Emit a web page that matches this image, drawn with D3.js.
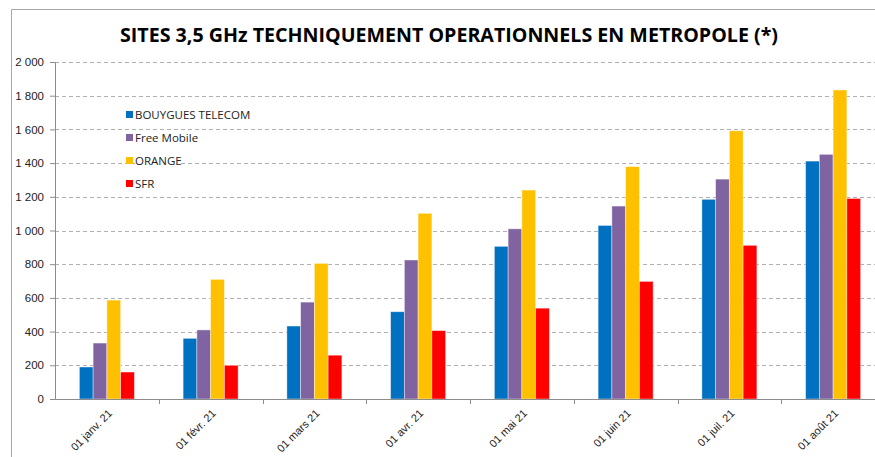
<!DOCTYPE html>
<html>
<head>
<meta charset="utf-8">
<script src="https://cdn.jsdelivr.net/npm/d3@7"></script>
<style>
  body { margin: 0; background: #fff; }
  svg { display: block; font-family: "Open Sans", "Noto Sans", sans-serif; }
</style>
</head>
<body>
<div class="chart"></div>
<script>
const months = ["01 janv. 21", "01 févr. 21", "01 mars 21", "01 avr. 21",
  "01 mai 21", "01 juin 21", "01 juil. 21", "01 août 21"];
const operators = ["BOUYGUES TELECOM", "Free Mobile", "ORANGE", "SFR"];
const colors = ["#0070c0", "#8064a2", "#ffc000", "#ff0000"];

const bouygues = [190, 360, 433, 518, 906, 1030, 1185, 1412];
const free = [332, 410, 575, 825, 1010, 1145, 1305, 1452];
const orange = [587, 710, 805, 1102, 1240, 1379, 1592, 1834];
const sfr = [160, 200, 260, 406, 539, 698, 912, 1190];
const yTicks = [0, 200, 400, 600, 800, 1000, 1200, 1400, 1600, 1800, 2000];

const series = [bouygues, free, orange, sfr];

const width = 875;
const height = 457;
const margin = {top: 62, left: 55, bottom: 58, right: 0};
const innerWidth = width - margin.left - margin.right;
const innerHeight = height - margin.top - margin.bottom;
// the category axis runs a little past the right edge, as in the source
const axisWidth = innerWidth + 10;

const svg = d3.select("div.chart").append("svg")
  .attr("width", width)
  .attr("height", height);

// frame of the chart area
svg.append("path")
  .attr("d", `M11.5,${height} V9.5 H${width}`)
  .attr("fill", "none")
  .attr("stroke", "#a6a6a6");

svg.append("text")
  .attr("x", 449)
  .attr("y", 42)
  .attr("text-anchor", "middle")
  .attr("font-size", 20)
  .attr("font-weight", "bold")
  .attr("textLength", 658)
  .attr("lengthAdjust", "spacingAndGlyphs")
  .text("SITES 3,5 GHz TECHNIQUEMENT OPERATIONNELS EN METROPOLE (*)");

const g = svg.append("g")
  .attr("transform", `translate(${margin.left}, ${margin.top})`);

const xScale = d3.scaleBand()
  .domain(months)
  .range([0, axisWidth]);
const xInner = d3.scaleBand()
  .domain(d3.range(operators.length))
  .range([0, 55])
  .padding(0);
const yScale = d3.scaleLinear()
  .domain([0, 2000])
  .range([innerHeight, 0]);

// dashed grid
g.append("g").attr("class", "grid")
  .selectAll("line")
  .data(yTicks.slice(1))
  .enter()
  .append("line")
  .attr("x1", 0)
  .attr("x2", innerWidth)
  .attr("y1", (d) => Math.round(yScale(d)) + 0.5)
  .attr("y2", (d) => Math.round(yScale(d)) + 0.5)
  .attr("stroke", "#b0b0b0")
  .attr("stroke-dasharray", "4,3");

const fmt = (d) => d3.format(",")(d).replace(",", " ");
const yAxis = d3.axisLeft(yScale)
  .tickValues(yTicks)
  .tickSize(5)
  .tickPadding(6)
  .tickFormat(fmt);
const yAxisGroup = g.append("g").attr("class", "yaxis").call(yAxis);
yAxisGroup.select(".domain").attr("stroke", "#8c8c8c").attr("d", `M-5,0.5H0.5V${innerHeight}`);
yAxisGroup.selectAll(".tick line").attr("stroke", "#8c8c8c");
yAxisGroup.selectAll("text").attr("font-size", 11.5).attr("fill", "#222");

// legend sits inside the plot, over the grid
const legend = svg.append("g").attr("class", "legend")
  .attr("transform", "translate(126, 116)");
const items = legend.selectAll("g")
  .data(operators)
  .enter()
  .append("g")
  .attr("transform", (d, i) => `translate(0, ${i * 23})`);
items.append("rect")
  .attr("x", 0).attr("y", -5)
  .attr("width", 7).attr("height", 7)
  .attr("fill", (d, i) => colors[i]);
items.append("rect")
  .attr("x", 9).attr("y", -8)
  .attr("width", (d) => d.length * 7.2).attr("height", 13)
  .attr("fill", "#fff");
items.append("text")
  .attr("x", 9).attr("y", 3)
  .attr("font-size", 11.5)
  .attr("fill", "#222")
  .text((d) => d);

// bars
const groups = g.append("g").attr("class", "bars")
  .selectAll("g")
  .data(months)
  .enter()
  .append("g")
  .attr("transform", (d) => `translate(${xScale(d) + xScale.bandwidth() / 2 - 27.5}, 0)`);
groups.selectAll("rect")
  .data((m, mi) => series.map((s, si) => ({si, v: s[mi]})))
  .enter()
  .append("rect")
  .attr("x", (d) => xInner(d.si))
  .attr("width", xInner.bandwidth())
  .attr("y", (d) => yScale(d.v))
  .attr("height", (d) => innerHeight - yScale(d.v))
  .attr("fill", (d) => colors[d.si])
  .attr("stroke", "#ffffff")
  .attr("stroke-opacity", 0.5)
  .attr("stroke-width", 0.8);

// x axis
const xAxis = d3.axisBottom(xScale).tickSize(0).tickFormat("");
const xAxisGroup = g.append("g").attr("class", "xaxis")
  .attr("transform", `translate(0, ${innerHeight})`)
  .call(xAxis);
xAxisGroup.select(".domain").attr("stroke", "#8c8c8c").attr("d", `M0,0.5H${axisWidth}`);
xAxisGroup.selectAll(".sep")
  .data(months)
  .enter()
  .append("line")
  .attr("x1", (d) => Math.round(xScale(d) + xScale.bandwidth()) + 0.5)
  .attr("x2", (d) => Math.round(xScale(d) + xScale.bandwidth()) + 0.5)
  .attr("y1", 0)
  .attr("y2", 5)
  .attr("stroke", "#8c8c8c");
xAxisGroup.selectAll(".lbl")
  .data(months)
  .enter()
  .append("text")
  .attr("text-anchor", "end")
  .attr("font-size", 11)
  .attr("fill", "#222")
  .attr("transform", (d) => `translate(${xScale(d) + xScale.bandwidth() / 2 + 6}, 15) rotate(-45)`)
  .text((d) => d);
</script>
</body>
</html>
